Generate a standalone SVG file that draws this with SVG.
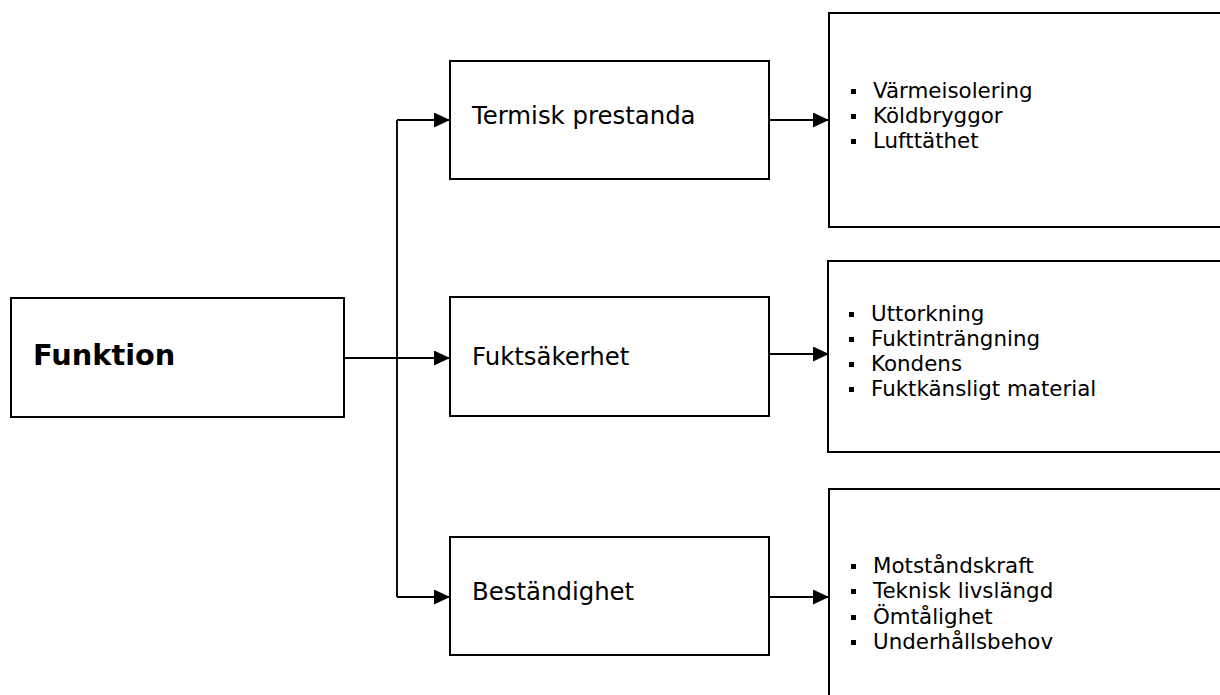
<svg xmlns="http://www.w3.org/2000/svg" width="1220" height="695" viewBox="0 0 1220 695">
  <style>
    .box { fill: #fff; stroke: #000; stroke-width: 2; }
    .wire { fill: none; stroke: #000; stroke-width: 1.9; }
    .label { font-family: "DejaVu Sans", Verdana, sans-serif; font-size: 24.4px; fill: #000; }
    .title { font-family: "DejaVu Sans", Verdana, sans-serif; font-size: 28.8px; font-weight: bold; fill: #000; }
    .item { font-family: "DejaVu Sans", Verdana, sans-serif; font-size: 21.4px; fill: #000; }
    .dot { fill: #000; }
  </style>
  <defs>
    <marker id="arrow" markerUnits="userSpaceOnUse" markerWidth="16" markerHeight="15" refX="16" refY="7.5" orient="auto">
      <path d="M0,0 L16,7.5 L0,15 Z" fill="#000"/>
    </marker>
  </defs>
  <rect width="1220" height="695" fill="#fff"/>

  <g id="connectors">
    <path class="wire" d="M344,358 H450" stroke-width="2.4" marker-end="url(#arrow)"/>
    <path class="wire" d="M397,120 V597"/>
    <path class="wire" d="M397,120 H450" marker-end="url(#arrow)"/>
    <path class="wire" d="M397,597 H450" marker-end="url(#arrow)"/>
    <path class="wire" d="M769,120 H829" marker-end="url(#arrow)"/>
    <path class="wire" d="M769,354 H829" marker-end="url(#arrow)"/>
    <path class="wire" d="M769,597 H829" marker-end="url(#arrow)"/>
  </g>

  <g id="funktion">
    <rect class="box" x="11" y="298" width="333" height="119"/>
    <text class="title" x="33" y="365">Funktion</text>
  </g>

  <g id="termisk">
    <rect class="box" x="450" y="61" width="319" height="118"/>
    <text class="label" x="472" y="124">Termisk prestanda</text>
  </g>

  <g id="fukt">
    <rect class="box" x="450" y="297" width="319" height="119"/>
    <text class="label" x="472" y="365">Fuktsäkerhet</text>
  </g>

  <g id="bestandighet">
    <rect class="box" x="450" y="537" width="319" height="118"/>
    <text class="label" x="472" y="600">Beständighet</text>
  </g>

  <g id="termisk-list">
    <rect class="box" x="829" y="13" width="420" height="214"/>
    <rect class="dot" x="851" y="89" width="5" height="5"/>
    <text class="item" x="873" y="98">Värmeisolering</text>
    <rect class="dot" x="851" y="114" width="5" height="5"/>
    <text class="item" x="873" y="123">Köldbryggor</text>
    <rect class="dot" x="851" y="139" width="5" height="5"/>
    <text class="item" x="873" y="148">Lufttäthet</text>
  </g>

  <g id="fukt-list">
    <rect class="box" x="828" y="261" width="420" height="191"/>
    <rect class="dot" x="849" y="312" width="5" height="5"/>
    <text class="item" x="871" y="321">Uttorkning</text>
    <rect class="dot" x="849" y="337" width="5" height="5"/>
    <text class="item" x="871" y="346">Fuktinträngning</text>
    <rect class="dot" x="849" y="362" width="5" height="5"/>
    <text class="item" x="871" y="371">Kondens</text>
    <rect class="dot" x="849" y="387" width="5" height="5"/>
    <text class="item" x="871" y="396">Fuktkänsligt material</text>
  </g>

  <g id="bestandighet-list">
    <rect class="box" x="829" y="489" width="420" height="240"/>
    <rect class="dot" x="851" y="564" width="5" height="5"/>
    <text class="item" x="873" y="573">Motståndskraft</text>
    <rect class="dot" x="851" y="589" width="5" height="5"/>
    <text class="item" x="873" y="598">Teknisk livslängd</text>
    <rect class="dot" x="851" y="615" width="5" height="5"/>
    <text class="item" x="873" y="624">Ömtålighet</text>
    <rect class="dot" x="851" y="640" width="5" height="5"/>
    <text class="item" x="873" y="649">Underhållsbehov</text>
  </g>
</svg>
